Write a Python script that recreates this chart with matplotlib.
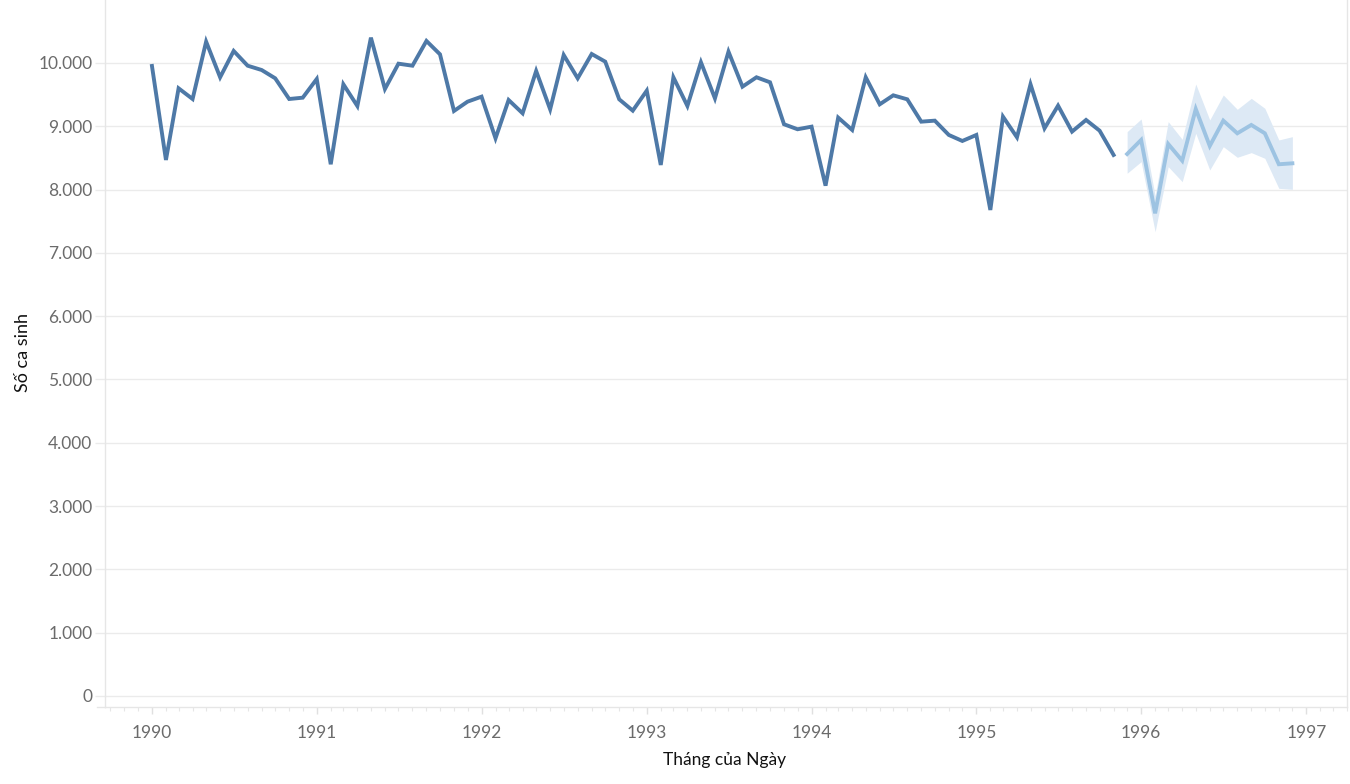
import pandas as pd
import numpy as np
import matplotlib
matplotlib.use("Agg")
import matplotlib.pyplot as plt
import matplotlib.dates as mdates
from matplotlib.ticker import FuncFormatter

# monthly births, 1990-01 .. 1995-11
actual = [9953, 8468, 9600, 9431, 10337, 9774, 10190, 9957, 9889, 9758, 9431, 9452,
          9747, 8400, 9663, 9320, 10400, 9589, 9989, 9957, 10348, 10137, 9242, 9389,
          9468, 8810, 9415, 9205, 9874, 9268, 10126, 9758, 10142, 10021, 9426, 9247,
          9563, 8389, 9774, 9321, 10011, 9441, 10179, 9626, 9774, 9695, 9032, 8953,
          8994, 8062, 9137, 8942, 9774, 9347, 9489, 9426, 9073, 9089, 8863, 8768,
          8863, 7678, 9152, 8826, 9663, 8968, 9326, 8916, 9100, 8931, 8547]

# forecast 1995-12 .. 1996-12
forecast = [8562, 8784, 7625, 8720, 8457, 9273, 8689, 9089, 8889, 9021, 8889, 8400, 8415]
fc_upper = [8915, 9115, 7900, 9073, 8794, 9668, 9100, 9494, 9268, 9441, 9284, 8784, 8836]
fc_lower = [8258, 8441, 7335, 8362, 8125, 8889, 8310, 8678, 8510, 8584, 8494, 8020, 8004]

dates_actual = pd.date_range("1990-01-01", periods=len(actual), freq="MS")
dates_fc = pd.date_range("1995-12-01", periods=len(forecast), freq="MS")

plt.rcParams['font.family'] = ['Lato', 'DejaVu Sans']

fig = plt.figure(figsize=(13.5, 7.84), dpi=100)
ax = fig.add_axes([105 / 1350, 1 - 707 / 784, (1347 - 105) / 1350, 707 / 784])

ax.fill_between(dates_fc, fc_lower, fc_upper, color='#dde9f5', linewidth=0, zorder=2)
ax.plot(dates_fc, forecast, color='#9dc3e2', linewidth=2.8, zorder=3,
        solid_joinstyle='miter')
ax.plot(dates_actual, actual, color='#4e79a7', linewidth=2.8, zorder=4,
        solid_joinstyle='miter')

ax.set_xlim(pd.Timestamp("1989-09-19"), pd.Timestamp("1997-04-01"))
ax.set_ylim(-174, 10995)

ax.set_yticks(np.arange(0, 10001, 1000))
ax.yaxis.set_major_formatter(FuncFormatter(lambda v, p: f"{int(v):,}".replace(",", ".")))
ax.xaxis.set_major_locator(mdates.YearLocator())
ax.xaxis.set_minor_locator(mdates.MonthLocator())
ax.xaxis.set_major_formatter(mdates.DateFormatter("%Y"))

ax.grid(axis='y', color='#ebebeb', linewidth=1, zorder=0)
ax.set_axisbelow(True)
ax.spines['top'].set_visible(False)
for s in ['left', 'bottom', 'right']:
    ax.spines[s].set_color('#e6e6e6')
    ax.spines[s].set_linewidth(1)
# bottom axis line runs a little past the y axis, like the original
ax.plot([-8 / 1242, 0], [0, 0], transform=ax.transAxes, clip_on=False,
        color='#e6e6e6', linewidth=1)

ax.tick_params(axis='y', length=7, width=1, color='#ebebeb', labelcolor='#6b6b6b',
               labelsize=12.5, pad=2)
ax.tick_params(axis='x', which='major', length=5, width=1, color='#e0e0e0',
               labelcolor='#6b6b6b', labelsize=12.5, pad=8)
ax.tick_params(axis='x', which='minor', length=3, width=0.8, color='#e6e6e6')

ax.set_ylabel("Số ca sinh", fontsize=13, color='#111111')
ax.yaxis.set_label_coords((31 - 105) / 1242, (707 - 353) / 707)
ax.set_xlabel("Tháng của Ngày", fontsize=12.5, color='#111111')
ax.xaxis.set_label_coords((725 - 105) / 1242, -(752 - 707) / 707)

fig.savefig("out.png", dpi=100, facecolor='white')
